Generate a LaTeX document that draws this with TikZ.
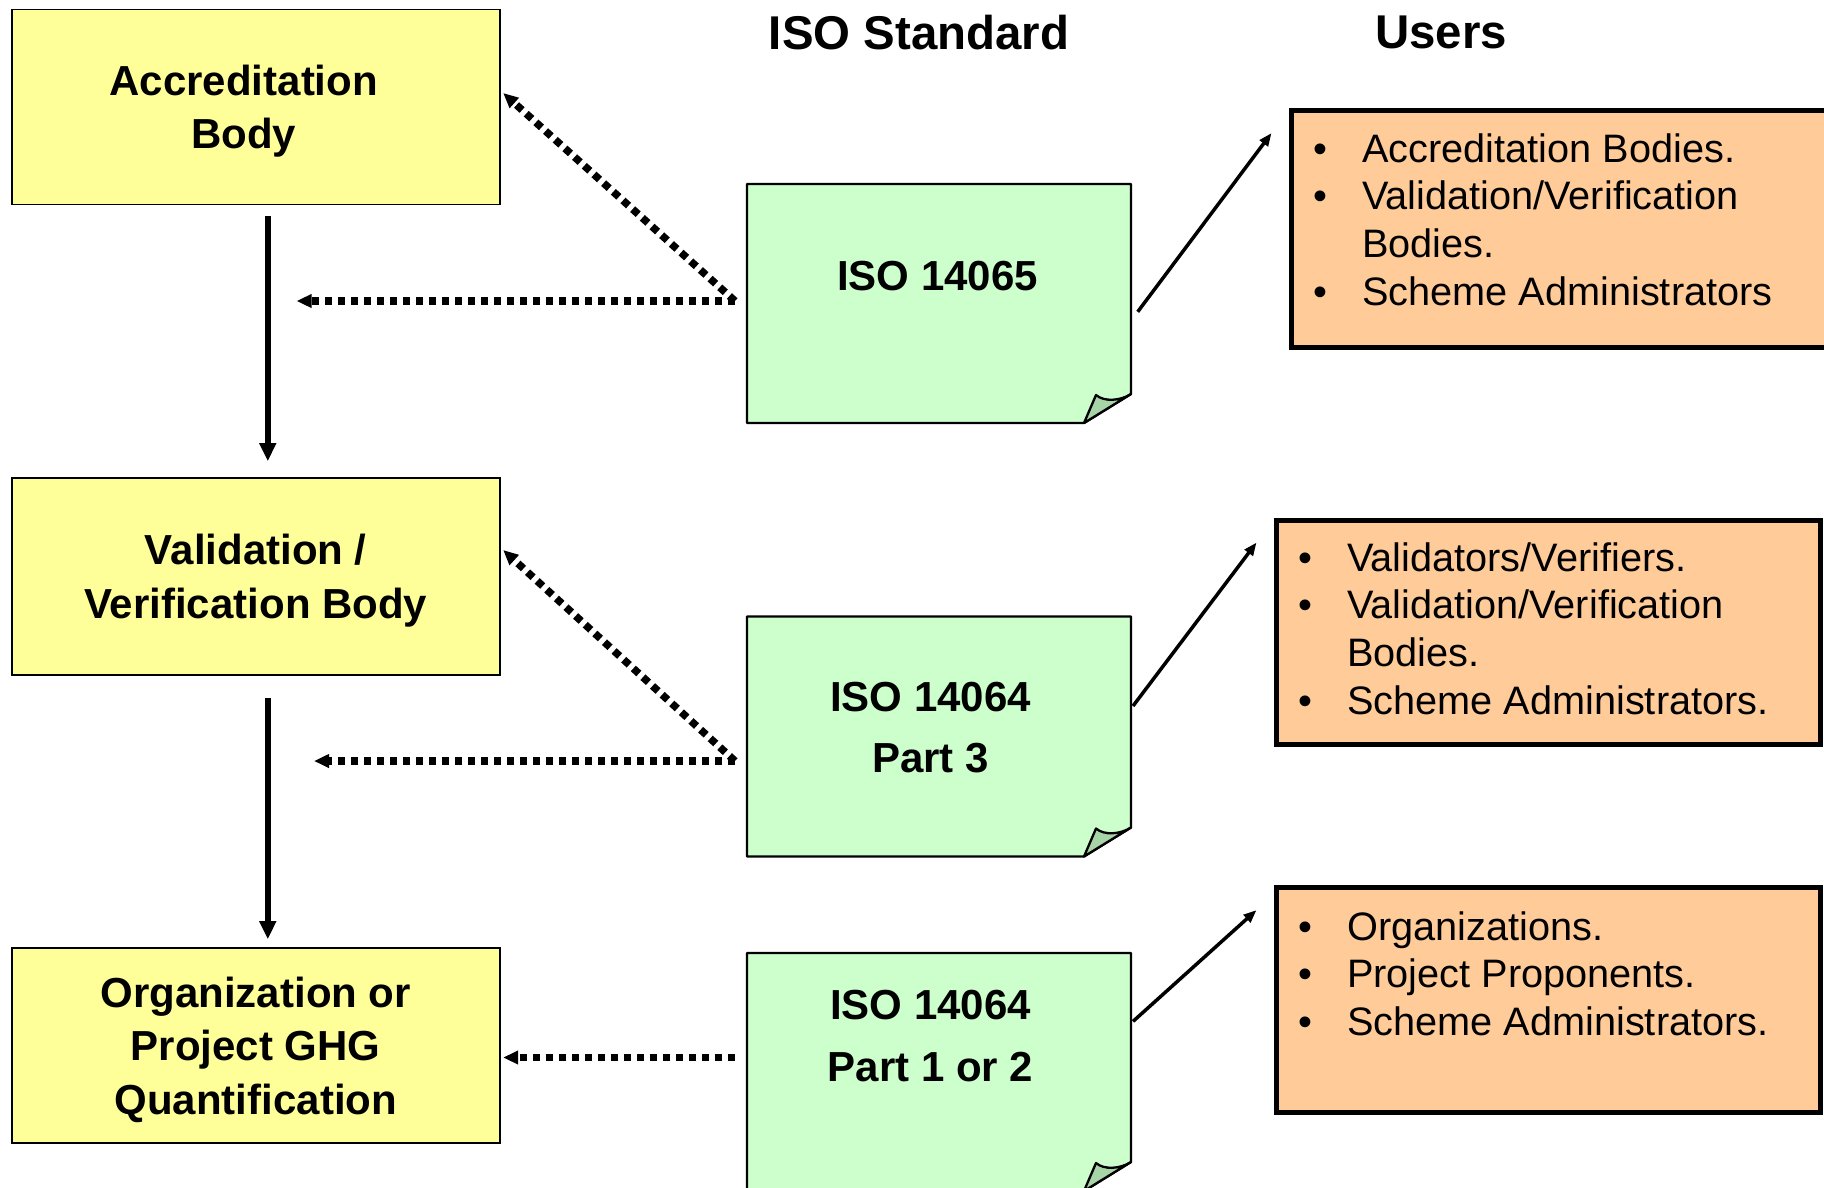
\documentclass[tikz,border=0pt]{standalone}
\usepackage{fontspec}
\setmainfont{Liberation Sans}
\usetikzlibrary{calc}
\usetikzlibrary{arrows.meta}
\usepackage{xcolor}
\definecolor{accyellow}{HTML}{FFFF99}
\definecolor{isogreen}{HTML}{CCFFCC}
\definecolor{foldgreen}{HTML}{A8D5A8}
\definecolor{usrorange}{HTML}{FFCC99}
\tikzset{
  ybox/.style={draw, fill=accyellow, line width=1.7pt, minimum width=488pt, align=center, text depth=0pt, font=\fontsize{42}{53.5}\selectfont\bfseries},
  obox/.style={draw, fill=usrorange, line width=5pt, minimum width=544pt},
  isotext/.style={align=center, text depth=0pt, inner sep=0pt, font=\fontsize{42}{61.6}\selectfont\bfseries},
  usrtext/.style={anchor=base west, inner sep=0pt, font=\fontsize{39.7}{47.7}\selectfont},
  head/.style={inner sep=0pt, font=\fontsize{47.4}{56}\selectfont\bfseries},
  down/.style={line width=5.5pt, -{Triangle[length=18pt,width=16pt]}},
  dots/.style={line width=7.5pt, dash pattern=on 7.5pt off 5.5pt, -{Triangle[length=15pt,width=13pt]}},
  thin/.style={line width=3.5pt, -{Triangle[length=13pt,width=10pt]}}
}

\begin{document}
\begin{tikzpicture}[x=1pt, y=-1pt]
\useasboundingbox (0,0) rectangle (1824,1187);
\node[head] (stdhead) at (919,32.6) {ISO Standard};
\node[head] (usrhead) at (1441,32.6) {Users};

\node[ybox, minimum height=195pt] (acc) at (255.8,107) {\hspace*{-24pt}Accreditation\\\hspace*{-24pt}Body};
\node[ybox, minimum height=197pt] (valv) at (255.8,576.5) {Validation /\\Verification Body};
\node[ybox, minimum height=195pt] (ghg) at (255.8,1045.5) {Organization or\\Project GHG\\Quantification};

\foreach \t/\b in {184/423, 616.5/856.5, 953/1191} {
 \filldraw[fill=isogreen, line width=2.3pt, line join=round] (747,\t) -- (1131,\t) -- (1131,\b-29) -- (1084,\b) -- (747,\b) -- cycle;
 \filldraw[fill=foldgreen, line width=2.3pt, line join=round] (1084,\b) -- (1096,\b-28) .. controls (1104,\b-21) and (1120,\b-22) .. (1131,\b-29) -- cycle;
}
\node[isotext] (isoA) at (937.6,275.7) {ISO 14065};
\node[isotext] (isoB) at (930.6,727.5) {ISO 14064\\Part 3};
\node[isotext] (isoC) at (930.6,1035.9) {ISO 14064\\Part 1 or 2};

\node[obox, minimum height=236.5pt] (usrA) at (1563,228.8) {};
\node[obox, minimum height=224.5pt] (usrB) at (1548,632.3) {};
\node[obox, minimum height=224.4pt] (usrC) at (1548,999.8) {};
\node[usrtext] (usrAtext) at (1313,162) {\begin{tabular}[t]{@{}p{49pt}@{}l@{}}
 \textbullet & Accreditation Bodies.\\
 \textbullet & Validation/Verification\\
  & Bodies.\\
 \textbullet & Scheme Administrators
\end{tabular}};
\node[usrtext] (usrBtext) at (1298,571) {\begin{tabular}[t]{@{}p{49pt}@{}l@{}}
 \textbullet & Validators/Verifiers.\\
 \textbullet & Validation/Verification\\
  & Bodies.\\
 \textbullet & Scheme Administrators.
\end{tabular}};
\node[usrtext] (usrCtext) at (1298,940) {\begin{tabular}[t]{@{}p{49pt}@{}l@{}}
 \textbullet & Organizations.\\
 \textbullet & Project Proponents.\\
 \textbullet & Scheme Administrators.
\end{tabular}};

\coordinate (srcA) at (735,301);
\coordinate (srcB) at (735,761);
\coordinate (srcC) at (735,1057.5);
\coordinate (tipA) at (296.6,301);
\coordinate (tipB) at (314,761);
\coordinate (outA) at (1137.7,311.8);
\coordinate (outB) at (1133,706);
\coordinate (outC) at (1133,1021.4);

\draw[down] ([xshift=12pt,yshift=-11pt]acc.south) -- ([xshift=12pt,yshift=16pt]valv.north);
\draw[down] ([xshift=12pt,yshift=-22pt]valv.south) -- ([xshift=12pt,yshift=8pt]ghg.north);

\draw[dots] (srcA) -- (tipA);
\draw[dots] (srcA) -- ([xshift=2.5pt,yshift=14pt]acc.east);
\draw[dots] (srcB) -- (tipB);
\draw[dots] (srcB) -- ([xshift=2.5pt,yshift=26.5pt]valv.east);
\draw[dots] (srcC) -- ([xshift=2.5pt]ghg.east |- srcC);

\draw[thin] (outA) -- ([xshift=-17pt,yshift=-25pt]usrA.north west);
\draw[thin] (outB) -- ([xshift=-17pt,yshift=-25pt]usrB.north west);
\draw[thin] (outC) -- ([xshift=-17pt,yshift=-25pt]usrC.north west);
\end{tikzpicture}
\end{document}
